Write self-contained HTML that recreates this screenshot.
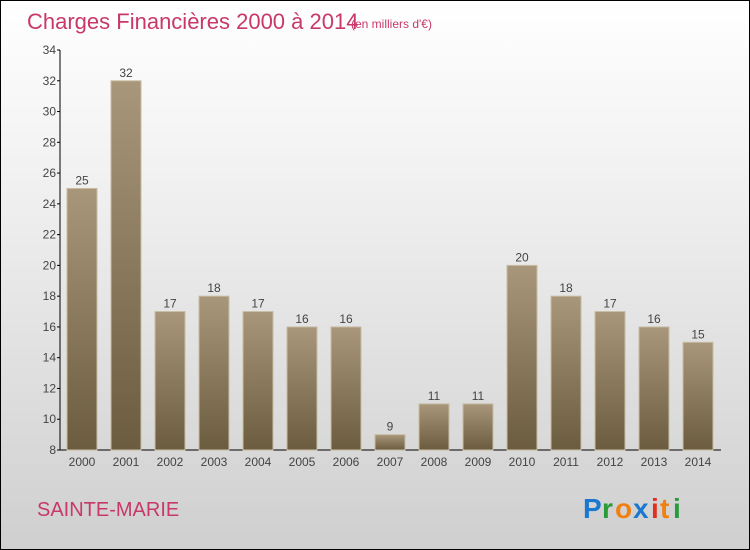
<!DOCTYPE html>
<html><head><meta charset="utf-8"><style>
body{margin:0;}
#wrap{width:748px;height:548px;border:1px solid #000;background:linear-gradient(#ffffff,#f2f2f2 30%,#cfcfcf);position:relative;overflow:hidden;font-family:"Liberation Sans",sans-serif;}
</style></head><body>
<div id="wrap">
<svg id="chart" width="748" height="548">
<defs><linearGradient id="bg" x1="0" y1="0" x2="0" y2="1"><stop offset="0" stop-color="#a8977a"/><stop offset="1" stop-color="#6c5c3f"/></linearGradient></defs>
<text x="26" y="28" font-size="22" fill="#c8386a">Charges Financières 2000 à 2014</text>
<text x="350" y="27" font-size="12" fill="#c8386a">(en milliers d'€)</text>
<text x="36" y="515" font-size="20" fill="#c8386a">SAINTE-MARIE</text>
<g font-size="28" font-weight="bold">
<text x="582" y="517" fill="#1a78d0">P</text><text x="601" y="517" fill="#2a9a3a">r</text><text x="614" y="517" fill="#f08010">o</text><text x="632" y="517" fill="#1a78d0">x</text><text x="650" y="517" fill="#e03020">i</text><text x="659" y="517" fill="#f08010">t</text><text x="672" y="517" fill="#2a9a3a">i</text>
</g>
</svg>
</div>
<script>
const categories=["2000","2001","2002","2003","2004","2005","2006","2007","2008","2009","2010","2011","2012","2013","2014"];
const values=[25,32,17,18,17,16,16,9,11,11,20,18,17,16,15];
const yTicks=[8,10,12,14,16,18,20,22,24,26,28,30,32,34];
const svg=document.getElementById('chart');
const NS='http://www.w3.org/2000/svg';
const x0=59,step=44,yMin=8,yMax=34,yTop=49,yBot=449;
const y=v=>yBot-(v-yMin)/(yMax-yMin)*(yBot-yTop);
const xc=i=>x0+step*i+22;
function mk(t,a){const e=document.createElementNS(NS,t);for(const k in a)e.setAttribute(k,a[k]);svg.appendChild(e);return e;}
let e=mk('line',{x1:x0,y1:yTop,x2:x0,y2:yBot,stroke:'#000'});


e=mk('line',{x1:x0,y1:yBot,x2:x0+step*categories.length+1,y2:yBot,stroke:'#000'});


yTicks.forEach(t=>{
 const l=mk('line',{x1:x0-3,y1:y(t),x2:x0,y2:y(t),stroke:'#000'});
 
 
 const tx=mk('text',{x:x0-4,y:y(t)+4,'font-size':12,fill:'#444','text-anchor':'end'});
 tx.textContent=t;
 
 
});
values.forEach((v,i)=>{
 const r=mk('rect',{x:xc(i)-15,y:y(v),width:30,height:yBot-y(v),fill:'url(#bg)',stroke:'#c9bda4','stroke-width':1});
 
 
 const t=mk('text',{x:xc(i),y:y(v)-4,'font-size':12,fill:'#444','text-anchor':'middle'});
 t.textContent=v;
 
 
 const c=mk('text',{x:xc(i),y:yBot+16,'font-size':12,fill:'#444','text-anchor':'middle'});
 c.textContent=categories[i];
 
 
});
</script>
</body></html>
